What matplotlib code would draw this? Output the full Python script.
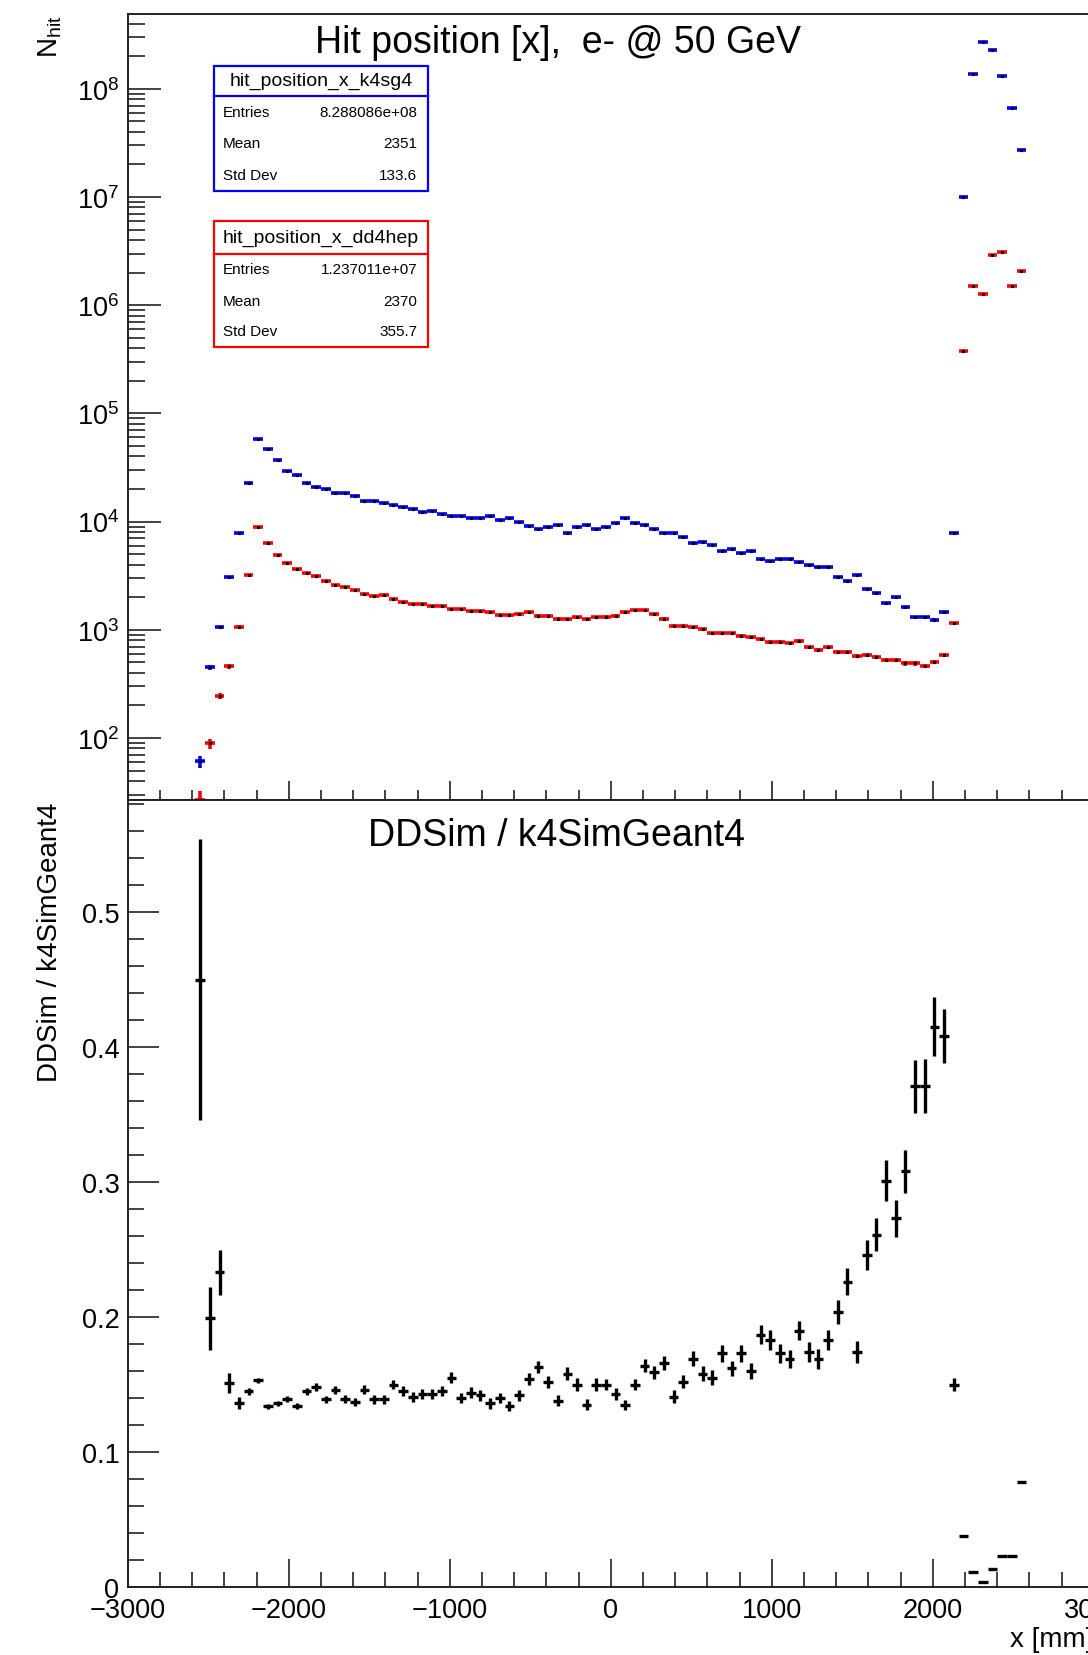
import numpy as np
import matplotlib
matplotlib.use("Agg")
import matplotlib.pyplot as plt
from matplotlib.patches import Rectangle
from matplotlib.lines import Line2D
from matplotlib.ticker import MultipleLocator, LogLocator, NullFormatter, FuncFormatter

plt.rcParams['font.family'] = ['Liberation Sans', 'DejaVu Sans']
plt.rcParams['mathtext.default'] = 'regular'

# hit x position, 60 mm bins in [-3000, 3000]; only the filled bins are listed
bin_width = 60
x_centers = np.arange(-2550, 2551, bin_width)

hits_k4sg4 = [
    61, 450, 1050, 3050, 7830, 22900, 58200, 47100, 36800, 29500,
    27100, 22900, 21000, 19950, 18200, 18200, 17300, 15600, 15600, 14700,
    14300, 13500, 13200, 12200, 12600, 11700, 11200, 11200, 10700, 10700,
    11200, 10300, 10700, 9840, 9140, 8530, 8950, 9350, 7890, 8950,
    9350, 8530, 8950,
    9680, 10700, 9680, 9330, 8530, 7830, 7830, 7240, 6320, 6430,
    6110, 5370, 5570, 5120, 5370, 4500, 4350, 4500, 4500, 4250,
    3960, 3820, 3820, 3090, 2840, 3210, 2380, 2200, 1770, 1990,
    1610, 1300, 1300, 1240, 1450, 7830,
    1.01e7, 1.36e8, 2.69e8, 2.26e8, 1.30e8, 6.59e7, 2.70e7,
]

hits_dd4hep = [
    27, 89, 245, 460, 1070, 3210, 8950, 6370, 4930, 4140,
    3640, 3320, 3120, 2840, 2590, 2470, 2340, 2140, 2040, 2090,
    1920, 1820, 1730, 1730, 1670, 1670, 1550, 1550, 1500, 1500,
    1450, 1370, 1370, 1400, 1450, 1350, 1350, 1270, 1260, 1300,
    1260, 1300, 1320,
    1350, 1450, 1520, 1520, 1400, 1270, 1090, 1090, 1050, 1010,
    927, 927, 927, 881, 851, 820, 774, 774, 748, 791,
    687, 653, 687, 627, 627, 568, 583, 556, 525, 525,
    489, 489, 465, 506, 583, 1150,
    3.79e5, 1.49e6, 1.26e6, 2.93e6, 3.08e6, 1.49e6, 2.08e6,
]

ratio = [
    0.450, 0.199, 0.233, 0.151, 0.136, 0.145, 0.153, 0.134, 0.136, 0.139,
    0.134, 0.145, 0.148, 0.139, 0.146, 0.139, 0.137, 0.146, 0.139, 0.139,
    0.150, 0.145, 0.141, 0.143, 0.143, 0.145, 0.155, 0.140, 0.144, 0.142,
    0.136, 0.140, 0.134, 0.142, 0.154, 0.163, 0.152, 0.138, 0.158, 0.150,
    0.135, 0.150, 0.150,
    0.143, 0.135, 0.150, 0.164, 0.159, 0.166, 0.141, 0.152, 0.169, 0.158,
    0.155, 0.173, 0.162, 0.173, 0.160, 0.187, 0.183, 0.173, 0.169, 0.190,
    0.174, 0.169, 0.183, 0.204, 0.226, 0.174, 0.246, 0.261, 0.301, 0.273,
    0.308, 0.371, 0.371, 0.415, 0.408, 0.150,
    0.038, 0.011, 0.004, 0.013, 0.023, 0.023, 0.078,
]

k4_stats = ("hit_position_x_k4sg4", "8.288086e+08", "2351", "133.6")
dd_stats = ("hit_position_x_dd4hep", "1.237011e+07", "2370", "355.7")

hits_k4sg4 = np.array(hits_k4sg4, dtype=float)
hits_dd4hep = np.array(hits_dd4hep, dtype=float)
ratio = np.array(ratio)
err_k4 = np.sqrt(hits_k4sg4)
err_dd = np.sqrt(hits_dd4hep)
err_ratio = ratio * np.sqrt(1.0 / hits_dd4hep + 1.0 / hits_k4sg4)

W, H = 1088, 1656
fig = plt.figure(figsize=(W / 100, H / 100), dpi=100)


def fx(px):
    return px / W


def fy(py):
    return 1 - py / H


left, right = 127.8, 1093.8
ax1 = fig.add_axes([fx(left), fy(800.7), (right - left) / W, (800.7 - 14.8) / H])
ax2 = fig.add_axes([fx(left), fy(1588), (right - left) / W, (1588 - 800.7) / H])

for ax in (ax1, ax2):
    ax.set_xlim(-3000, 3000)
    for s in ax.spines.values():
        s.set_linewidth(1.4)
        s.set_color('#222222')
    ax.xaxis.set_major_locator(MultipleLocator(1000))
    ax.xaxis.set_minor_locator(MultipleLocator(200))
    ax.tick_params(which='both', direction='in', top=False, right=False, width=1.2,
                   labelsize=19.5, color='#222222')

# upper pad: both histograms
ax1.set_yscale('log')
ax1.set_ylim(26.9, 4.93e8)
ax1.yaxis.set_major_locator(LogLocator(base=10, numticks=20))
ax1.yaxis.set_minor_locator(LogLocator(base=10, subs=np.arange(2, 10), numticks=20))
ax1.yaxis.set_minor_formatter(NullFormatter())
ax1.tick_params(axis='y', which='major', length=24, pad=6)
ax1.tick_params(axis='y', which='minor', length=12)
ax1.tick_params(axis='x', which='major', length=14, labelbottom=False)
ax1.tick_params(axis='x', which='minor', length=7)

ax1.errorbar(x_centers, hits_k4sg4, xerr=bin_width / 2, yerr=err_k4, fmt='none',
             ecolor='blue', elinewidth=2.6)
ax1.errorbar(x_centers, hits_dd4hep, xerr=bin_width / 2, yerr=err_dd, fmt='none',
             ecolor='red', elinewidth=2.6)
ax1.plot(x_centers, hits_k4sg4, ls='none', marker='s', ms=1.3, color='black')
ax1.plot(x_centers, hits_dd4hep, ls='none', marker='s', ms=1.3, color='black')

# lower pad: ratio
ax2.set_ylim(0, (1588 - 800.7) / 1350)
ax2.yaxis.set_major_locator(MultipleLocator(0.1))
ax2.yaxis.set_minor_locator(MultipleLocator(0.02))
ax2.yaxis.set_major_formatter(FuncFormatter(lambda v, p: '%g' % round(v, 3)))
ax2.tick_params(axis='y', which='major', length=22, pad=6)
ax2.tick_params(axis='y', which='minor', length=11.5)
ax2.tick_params(axis='x', which='major', length=20, pad=7)
ax2.tick_params(axis='x', which='minor', length=10.5)

ax2.errorbar(x_centers, ratio, xerr=bin_width / 2, yerr=err_ratio, fmt='none',
             ecolor='black', elinewidth=2.4)

# titles and axis labels
fig.text(fx(558), fy(43), "Hit position [x],  e- @ 50 GeV", ha='center', va='center',
         fontsize=27)
fig.text(fx(557), fy(836), "DDSim / k4SimGeant4", ha='center', va='center', fontsize=27)
fig.text(fx(50), fy(15), r'$N_{hit}$', rotation=90, ha='center', va='top', fontsize=20)
fig.text(fx(50), fy(803), "DDSim / k4SimGeant4", rotation=90, ha='center', va='top',
         fontsize=20)
fig.text(fx(right), fy(1640), "x [mm]", ha='right', va='center', fontsize=20)


def stats_box(top, sep, bottom, color, stats):
    name, entries, mean, std = stats
    x0, x1 = 214, 428
    fig.patches.append(Rectangle((fx(x0), fy(bottom)), (x1 - x0) / W, (bottom - top) / H,
                                 transform=fig.transFigure, fill=True, facecolor='white',
                                 edgecolor=color, linewidth=1.6))
    fig.lines.append(Line2D([fx(x0), fx(x1)], [fy(sep), fy(sep)],
                            transform=fig.transFigure, color=color, linewidth=1.6))
    fig.text(fx((x0 + x1) / 2), fy((top + sep) / 2), name, ha='center', va='center',
             fontsize=14)
    step = (bottom - sep) / 3
    for i, (lab, val) in enumerate([("Entries", entries), ("Mean", mean), ("Std Dev", std)]):
        yy = sep + step * (i + 0.5)
        fig.text(fx(223), fy(yy), lab, ha='left', va='center', fontsize=11)
        fig.text(fx(417), fy(yy), val, ha='right', va='center', fontsize=11)


stats_box(66.7, 96.7, 192.3, 'blue', k4_stats)
stats_box(222, 255, 348, 'red', dd_stats)

fig.savefig("out.png", dpi=100)
